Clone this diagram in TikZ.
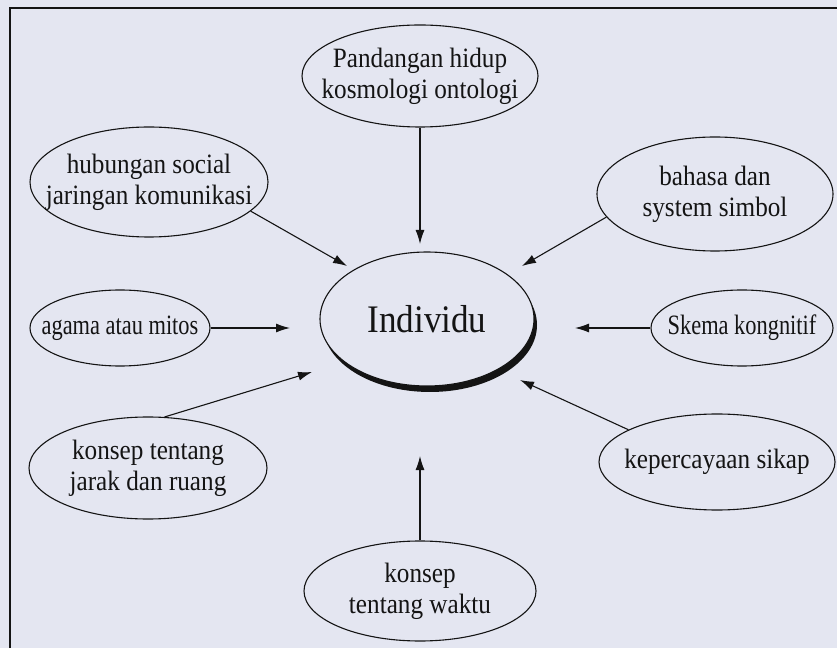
\documentclass[tikz,border=0pt]{standalone}
\usepackage{fontspec}
\setmainfont{Liberation Serif}
\newfontfamily\tallfont[FakeStretch=0.9]{Liberation Serif}
\newfontfamily\condfont[FakeStretch=0.8]{Liberation Serif}
\usetikzlibrary{shapes.geometric,arrows.meta}
\definecolor{paper}{HTML}{E4E6F1}
\definecolor{ink}{HTML}{141414}
\begin{document}
\begin{tikzpicture}[x=1pt,y=1pt,
  bub/.style={ellipse, draw=ink, line width=1.1pt, fill=paper, inner sep=0pt},
  lbl/.style={align=center, inner sep=0pt, text=ink, font=\tallfont\fontsize{28}{31}\selectfont},
  clbl/.style={lbl, font=\condfont\fontsize{28}{31}\selectfont},
  arr/.style={draw=ink, line width=1.1pt, -{Latex[length=14pt,width=9pt]}}]
\fill[paper] (0,0) rectangle (837,648);
\useasboundingbox (0,0) rectangle (837,648);
\draw[ink, line width=1.4pt] (10,0) -- (10,640) -- (837,640);

% outer concepts
\node[bub, minimum width=236pt, minimum height=102pt] (pand) at (420,572) {};
\node[lbl] (pandt) at (pand) {Pandangan hidup\\kosmologi ontologi};

\node[bub, minimum width=238pt, minimum height=110pt] (hub) at (149,466) {};
\node[lbl] (hubt) at (hub) {hubungan social\\jaringan komunikasi};

\node[bub, minimum width=236pt, minimum height=114pt] (bah) at (715,454) {};
\node[lbl] (baht) at (bah) {bahasa dan\\system simbol};

\node[bub, minimum width=180pt, minimum height=76pt] (aga) at (120,320) {};
\node[clbl] (agat) at (aga) {agama atau mitos};

\node[bub, minimum width=182pt, minimum height=76pt] (ske) at (742,320) {};
\node[clbl] (sket) at (ske) {Skema kongnitif};

\node[bub, minimum width=238pt, minimum height=102pt] (jar) at (148,180) {};
\node[lbl] (jart) at (jar) {konsep tentang\\jarak dan ruang};

\node[bub, minimum width=236pt, minimum height=96pt] (kep) at (717,186) {};
\node[lbl] (kept) at (kep) {kepercayaan sikap};

\node[bub, minimum width=232pt, minimum height=100pt] (wak) at (420,57) {};
\node[lbl] (wakt) at (wak) {konsep\\tentang waktu};

% centre with shadow
\fill[ink] (430,323) ellipse [x radius=107, y radius=67];
\node[bub, minimum width=214pt, minimum height=134pt] (ind) at (427,329) {};
\node[lbl, font=\tallfont\fontsize{39}{41}\selectfont] (indt) at (ind) {Individu};

% arrow tips
\coordinate (tP) at (420,404);
\coordinate (tH) at (347,382);
\coordinate (tB) at (522,382);
\coordinate (tA) at (290,320);
\coordinate (tS) at (575,320);
\coordinate (tJ) at (312,276);
\coordinate (tK) at (520,268);
\coordinate (tW) at (420,192);

\draw[arr] (pand.south) -- (tP);
\draw[arr] (hub.-16) -- (tH);
\draw[arr] (bah.192) -- (tB);
\draw[arr] (aga.east) -- (tA);
\draw[arr] (ske.west) -- (tS);
\draw[arr] (jar.72) -- (tJ);
\draw[arr] (kep.160) -- (tK);
\draw[arr] (wak.north) -- (tW);
\end{tikzpicture}
\end{document}
